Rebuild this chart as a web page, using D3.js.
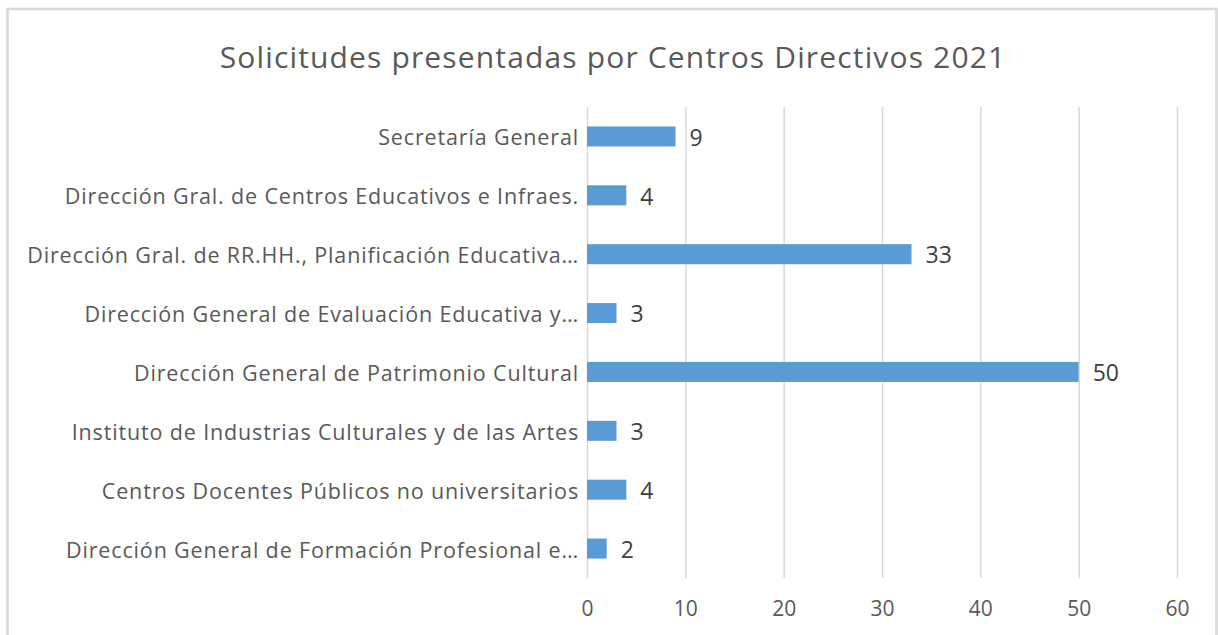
<!DOCTYPE html>
<html>
<head>
<meta charset="utf-8">
<script src="https://cdn.jsdelivr.net/npm/d3@7"></script>
<style>
  body { margin: 0; background: #fff; }
  svg text { font-family: "Open Sans", Lato, sans-serif; }
</style>
</head>
<body>
<div id="chart"></div>
<script>
// categories, top to bottom
var centros = [
  "Secretaría General",
  "Dirección Gral. de Centros Educativos e Infraes.",
  "Dirección Gral. de RR.HH., Planificación Educativa…",
  "Dirección General de Evaluación Educativa y…",
  "Dirección General de Patrimonio Cultural",
  "Instituto de Industrias Culturales y de las Artes",
  "Centros Docentes Públicos no universitarios",
  "Dirección General de Formación Profesional e…"
];
var solicitudes = [9, 4, 33, 3, 50, 3, 4, 2];
var xTicks = [0, 10, 20, 30, 40, 50, 60];
var titulo = "Solicitudes presentadas por Centros Directivos 2021";

var svgWidth = 1218;
var svgHeight = 635;

var margin = { top: 107, right: 41, bottom: 57, left: 587 };
var width = svgWidth - margin.left - margin.right;
var height = svgHeight - margin.top - margin.bottom;

var svg = d3.select("#chart")
  .append("svg")
  .attr("width", svgWidth)
  .attr("height", svgHeight);

// chart frame
svg.append("rect")
  .attr("x", 7.5)
  .attr("y", 9)
  .attr("width", 1209)
  .attr("height", 640)
  .attr("fill", "none")
  .attr("stroke", "#d9d9d9")
  .attr("stroke-width", 2.5);

svg.append("text")
  .attr("x", 613)
  .attr("y", 68)
  .attr("text-anchor", "middle")
  .attr("fill", "#595959")
  .style("font-size", "30px")
  .style("letter-spacing", "1.15px")
  .text(titulo);

var chartGroup = svg.append("g")
  .attr("transform", `translate(${margin.left}, ${margin.top})`);

var xScale = d3.scaleLinear()
  .domain([0, 60])
  .range([0, width]);

var yScale = d3.scaleBand()
  .domain(centros)
  .range([0, height])
  .paddingInner(0.66)
  .paddingOuter(0.33);

// vertical gridlines + tick labels
var bottomAxis = d3.axisBottom(xScale)
  .tickValues(xTicks)
  .tickSize(height)
  .tickPadding(23);

var xAxis = chartGroup.append("g")
  .call(bottomAxis);
xAxis.select(".domain").remove();
xAxis.selectAll("line")
  .attr("stroke", "#d9d9d9")
  .attr("stroke-width", 1.5);
xAxis.selectAll("text")
  .attr("fill", "#595959")
  .style("font-family", "'Open Sans', sans-serif")
  .style("font-size", "21px");

// category labels
var leftAxis = d3.axisLeft(yScale)
  .tickSize(0)
  .tickPadding(8);

var yAxis = chartGroup.append("g")
  .call(leftAxis);
yAxis.select(".domain").remove();
yAxis.selectAll("text")
  .attr("fill", "#595959")
  .attr("dy", "0.42em")
  .style("font-family", "'Open Sans', sans-serif")
  .style("font-size", "21.5px")
  .style("letter-spacing", "0.85px");

// bars
chartGroup.selectAll("rect.bar")
  .data(solicitudes)
  .enter()
  .append("rect")
  .attr("class", "bar")
  .attr("x", xScale(0))
  .attr("y", (d, i) => yScale(centros[i]))
  .attr("width", d => xScale(d) - xScale(0))
  .attr("height", yScale.bandwidth())
  .attr("fill", "#5b9bd5");

// value labels
chartGroup.selectAll("text.valor")
  .data(solicitudes)
  .enter()
  .append("text")
  .attr("class", "valor")
  .attr("x", d => xScale(d) + 14)
  .attr("y", (d, i) => yScale(centros[i]) + yScale.bandwidth() / 2)
  .attr("dy", "0.4em")
  .attr("fill", "#404040")
  .style("font-size", "23px")
  .text(d => d);
</script>
</body>
</html>
